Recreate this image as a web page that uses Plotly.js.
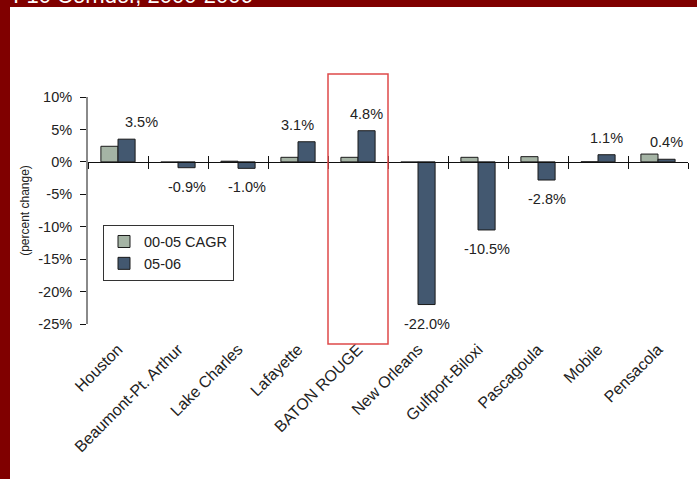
<!DOCTYPE html>
<html>
<head>
<meta charset="utf-8">
<script src="https://cdn.plot.ly/plotly-3.0.1.min.js"></script>
<style>
  html, body { margin: 0; padding: 0; background: #ffffff; }
  #chart { width: 697px; height: 479px; }
</style>
</head>
<body>
<div id="chart"></div>
<script>
// ---- data ----
const categories = ["Houston", "Beaumont-Pt. Arthur", "Lake Charles", "Lafayette", "BATON ROUGE",
                    "New Orleans", "Gulfport-Biloxi", "Pascagoula", "Mobile", "Pensacola"];
const cagr0005 = [2.4, -0.1, 0.1, 0.7, 0.7, -0.1, 0.7, 0.8, 0.0, 1.2];
const chg0506  = [3.5, -0.9, -1.0, 3.1, 4.8, -22.0, -10.5, -2.8, 1.1, 0.4];
const seriesNames = ["00-05 CAGR", "05-06"];
const yTickVals = [10, 5, 0, -5, -10, -15, -20, -25];
const chartTitle = "I-10 Corridor, 2000-2006";
const yTitle = "(percent change)";
const highlight = "BATON ROUGE";

// ---- style ----
const FONT = "'Liberation Sans', Arial, sans-serif";
const TXT = "#222222";
const labelNudge = { "Houston": 15, "Lafayette": -9 };
const zeroPos = (0 - (-25)) / (10 - (-25));

const traces = [
  {
    type: "bar", name: seriesNames[0], x: categories, y: cagr0005,
    marker: { color: "#a5b4a5", line: { color: "#1a1a1a", width: 1 } },
    hoverinfo: "skip"
  },
  {
    type: "bar", name: seriesNames[1], x: categories, y: chg0506,
    marker: { color: "#435870", line: { color: "#1a1a1a", width: 1 } },
    hoverinfo: "skip"
  },
  // carriers for the zero-line axes (ticks crossing the line)
  { type: "scatter", mode: "markers", x: categories, y: categories.map(() => 0),
    xaxis: "x2", yaxis: "y", marker: { opacity: 0 }, showlegend: false, hoverinfo: "skip" },
  { type: "scatter", mode: "markers", x: categories, y: categories.map(() => 0),
    xaxis: "x3", yaxis: "y", marker: { opacity: 0 }, showlegend: false, hoverinfo: "skip" }
];

const annotations = chg0506.map((v, i) => ({
  x: categories[i], y: v, xref: "x", yref: "y",
  text: v.toFixed(1) + "%",
  showarrow: false,
  xshift: 8.5 + (labelNudge[categories[i]] || 0),
  yanchor: v >= 0 ? "bottom" : "top",
  yshift: v >= 0 ? 7 : -9,
  font: { family: FONT, size: 14.5, color: TXT }
}));

annotations.push({
  xref: "paper", yref: "paper", x: -0.128, y: 1.445,
  xanchor: "left", yanchor: "middle", showarrow: false,
  text: chartTitle,
  font: { family: FONT, size: 22, color: "#ffffff" }
});

const hiIdx = categories.indexOf(highlight);

const commonCat = {
  type: "category", categoryorder: "array", categoryarray: categories,
  range: [-0.5, categories.length - 0.5], fixedrange: true
};

const layout = {
  width: 697, height: 479,
  margin: { l: 88, r: 9, t: 97, b: 155 },
  paper_bgcolor: "#ffffff", plot_bgcolor: "rgba(0,0,0,0)",
  font: { family: FONT, size: 14, color: TXT },
  barmode: "group", bargap: 0.43, bargroupgap: 0,
  showlegend: true,
  legend: {
    x: 0.025, y: 0.438, xanchor: "left", yanchor: "top",
    bgcolor: "#ffffff", bordercolor: "#333333", borderwidth: 1,
    font: { family: FONT, size: 14.5, color: TXT },
    tracegroupgap: 0, itemwidth: 30
  },
  xaxis: Object.assign({}, commonCat, {
    showline: false, ticks: "", showgrid: false, zeroline: false,
    tickangle: -45, tickfont: { family: FONT, size: 16, color: TXT },
    ticklabelstandoff: 12, automargin: false
  }),
  xaxis2: Object.assign({}, commonCat, {
    overlaying: "x", anchor: "free", position: zeroPos,
    showline: true, linecolor: "#111111", linewidth: 1,
    ticks: "outside", ticklen: 6, tickcolor: "#111111", tickwidth: 1,
    tickson: "boundaries", showticklabels: false, showgrid: false, zeroline: false
  }),
  xaxis3: Object.assign({}, commonCat, {
    overlaying: "x", anchor: "free", position: zeroPos,
    showline: false,
    ticks: "inside", ticklen: 6, tickcolor: "#111111", tickwidth: 1,
    tickson: "boundaries", showticklabels: false, showgrid: false, zeroline: false
  }),
  yaxis: {
    range: [-25, 10], tickvals: yTickVals, ticktext: yTickVals.map(v => v + "%"),
    showline: true, linecolor: "#8a8a8a", linewidth: 2,
    ticks: "outside", ticklen: 6, tickcolor: "#111111", tickwidth: 1,
    showgrid: false, zeroline: false, fixedrange: true,
    tickfont: { family: FONT, size: 14.5, color: TXT },
    ticklabelstandoff: 5,
    title: { text: yTitle, standoff: 6, font: { family: FONT, size: 12, color: TXT } },
    automargin: false
  },
  shapes: [
    // dark red frame: left band and top band
    { type: "rect", xref: "paper", yref: "paper", layer: "below",
      x0: -0.1467, x1: -0.13, y0: -0.69, y1: 1.43,
      fillcolor: "#800000", line: { width: 0 } },
    { type: "rect", xref: "paper", yref: "paper", layer: "below",
      x0: -0.1467, x1: 1.02, y0: 1.3965, y1: 1.43,
      fillcolor: "#800000", line: { width: 0 } },
    // highlight box around the selected category
    { type: "rect", xref: "x", yref: "paper",
      x0: hiIdx - 0.5, x1: hiIdx + 0.5, y0: -0.088, y1: 1.101,
      fillcolor: "rgba(0,0,0,0)", line: { color: "#de4a4a", width: 1.5 } }
  ],
  annotations: annotations
};

Plotly.newPlot("chart", traces, layout, { displayModeBar: false, staticPlot: true });
</script>
</body>
</html>
